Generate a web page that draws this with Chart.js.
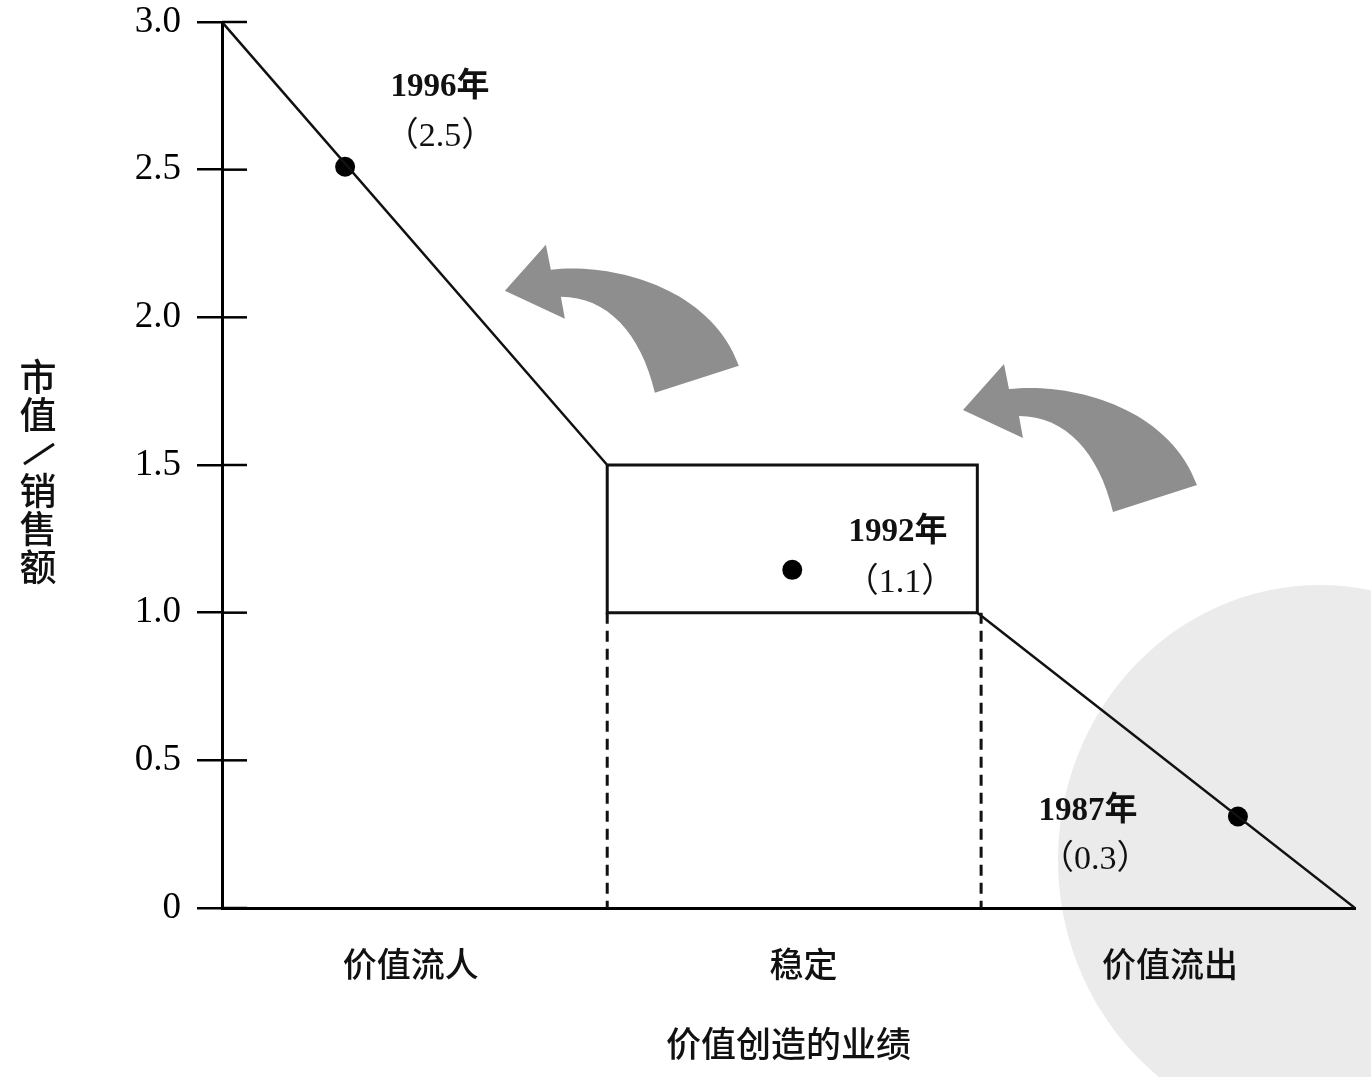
<!DOCTYPE html>
<html>
<head>
<meta charset="utf-8">
<script src="https://cdn.jsdelivr.net/npm/chart.js@4.4.1/dist/chart.umd.min.js"></script>
<style>
  html, body { margin: 0; padding: 0; background: #fff; }
  #wrap { width: 1371px; height: 1077px; position: relative; }
</style>
</head>
<body>
<div id="wrap"><canvas id="chart"></canvas></div>
<script>
// 数据
const yTicks = [0, 0.5, 1.0, 1.5, 2.0, 2.5, 3.0];
const zoneTicks = [0.5, 1.54, 2.51];
const zoneLabels = ['价值流人', '稳定', '价值流出'];
const curveX = [0, 1.02, null, 2, 3];
const curveY = [3.0, 1.5, null, 1.0, 0];
const boxX = [1.02, 2, 2, 1.02, 1.02];
const boxY = [1.5, 1.5, 1.0, 1.0, 1.5];
const dashLeftX = [1.02, 1.02], dashLeftY = [1.0, 0];
const dashRightX = [2.01, 2.01], dashRightY = [1.0, 0];
const yearX = [0.326, 1.51, 2.69];
const yearY = [2.51, 1.145, 0.31];
const noteX = [0.577, 0.577, 1.79, 1.795, 2.293, 2.312];
const noteY = [2.777, 2.61, 1.27, 1.10, 0.328, 0.163];
const noteText = ['1996年', '（2.5）', '1992年', '（1.1）', '1987年', '（0.3）'];
// 弯箭头的箭尖位置（数据坐标）
const arrowTipX = [0.749, 1.962];
const arrowTipY = [2.09, 1.686];
const yTitleChars = ['市', '值', '/', '销', '售', '额'];

const pts = (xs, ys) => xs.map((x, i) => (x === null ? { x: NaN, y: NaN } : { x, y: ys[i] }));

const serif = '"Liberation Serif", "Noto Sans CJK SC", serif';
const cjk = '"Noto Sans CJK SC", sans-serif';

const decor = {
  id: 'decor',
  beforeDraw(chart) {
    // 右下角浅灰色水印块
    const c = chart.ctx;
    c.save();
    c.fillStyle = '#ebebeb';
    c.beginPath();
    c.ellipse(1320, 860, 262, 275, 0, 0, Math.PI * 2);
    c.fill();
    c.restore();
  },
  afterDatasetsDraw(chart) {
    const c = chart.ctx;
    const xs = chart.scales.x, ys = chart.scales.y;
    // 弯箭头
    c.save();
    c.fillStyle = '#8e8e8e';
    arrowTipX.forEach((ax, i) => {
      const px = xs.getPixelForValue(ax), py = ys.getPixelForValue(arrowTipY[i]);
      c.save();
      c.translate(px, py);
      c.beginPath();
      c.moveTo(0, 0);
      c.lineTo(41, -46);
      c.lineTo(46, -21);
      c.bezierCurveTo(105, -28, 205, -5, 234, 75);
      c.lineTo(150, 102);
      c.bezierCurveTo(136, 42, 102, 6, 56, 6);
      c.lineTo(60, 28);
      c.closePath();
      c.fill();
      c.restore();
    });
    c.restore();

    // y 轴刻度线的内侧部分
    c.save();
    c.strokeStyle = '#000';
    c.lineWidth = 2.5;
    yTicks.forEach(v => {
      const y = ys.getPixelForValue(v);
      c.beginPath();
      c.moveTo(xs.left, y);
      c.lineTo(xs.left + 25, y);
      c.stroke();
    });
    c.restore();

    // 年份标注
    c.save();
    c.fillStyle = '#111';
    c.textAlign = 'center';
    c.textBaseline = 'middle';
    noteText.forEach((t, i) => {
      c.font = (i % 2 === 0 ? 'bold 33px ' : '34px ') + serif;
      c.fillText(t, xs.getPixelForValue(noteX[i]), ys.getPixelForValue(noteY[i]));
    });
    c.restore();

    // 纵轴标题（竖排）
    c.save();
    c.fillStyle = '#111';
    c.textAlign = 'center';
    c.textBaseline = 'middle';
    c.font = '500 37px ' + cjk;
    yTitleChars.forEach((ch, i) => {
      const y = 377 + i * 38;
      if (ch === '/') {
        c.strokeStyle = '#111';
        c.lineWidth = 3;
        c.beginPath();
        c.moveTo(24, y + 11);
        c.lineTo(54, y - 9);
        c.stroke();
      } else {
        c.fillText(ch, 38, y);
      }
    });
    c.restore();
  }
};

const lineStyle = { showLine: true, borderColor: '#111', borderWidth: 2.5, pointRadius: 0, fill: false, tension: 0 };

new Chart(document.getElementById('chart'), {
  type: 'scatter',
  data: {
    datasets: [
      Object.assign({ label: 'curve', data: pts(curveX, curveY), spanGaps: false }, lineStyle),
      Object.assign({ label: 'box', data: pts(boxX, boxY) }, lineStyle, { borderWidth: 3 }),
      Object.assign({ label: 'dashL', data: pts(dashLeftX, dashLeftY), borderDash: [11, 7] }, lineStyle, { borderWidth: 3 }),
      Object.assign({ label: 'dashR', data: pts(dashRightX, dashRightY), borderDash: [11, 7] }, lineStyle, { borderWidth: 3 }),
      { label: 'years', data: pts(yearX, yearY), showLine: false, pointRadius: 10, pointBackgroundColor: '#000', pointBorderWidth: 0 }
    ]
  },
  options: {
    responsive: true,
    maintainAspectRatio: false,
    animation: false,
    layout: { padding: { top: 22, right: 16, left: 0, bottom: 0 } },
    plugins: { legend: { display: false }, tooltip: { enabled: false } },
    scales: {
      x: {
        type: 'linear', min: 0, max: 3,
        afterBuildTicks: s => { s.ticks = zoneTicks.map(v => ({ value: v })); },
        afterFit: s => { s.height = 169; s.paddingLeft = 0; s.paddingRight = 0; },
        ticks: {
          autoSkip: false, maxRotation: 0, padding: 36, color: '#111',
          font: { family: cjk, size: 34, weight: 500 },
          callback: (v, i) => zoneLabels[i]
        },
        grid: { display: false, drawTicks: false },
        border: { display: true, color: '#000', width: 3 },
        title: { display: true, text: '价值创造的业绩', color: '#111', font: { family: cjk, size: 35, weight: 500 }, padding: { top: 0, bottom: 12 } }
      },
      y: {
        min: 0, max: 3,
        afterBuildTicks: s => { s.ticks = yTicks.map(v => ({ value: v })); },
        afterFit: s => { s.width = 222; s.paddingTop = 0; s.paddingBottom = 0; },
        ticks: {
          padding: 16, color: '#000',
          font: { family: serif, size: 37 },
          callback: v => (v === 0 ? '0' : v.toFixed(1))
        },
        grid: { drawOnChartArea: false, drawTicks: true, tickLength: 25, color: '#000', lineWidth: 2.5 },
        border: { display: true, color: '#000', width: 3 }
      }
    }
  },
  plugins: [decor]
});
</script>
</body>
</html>
